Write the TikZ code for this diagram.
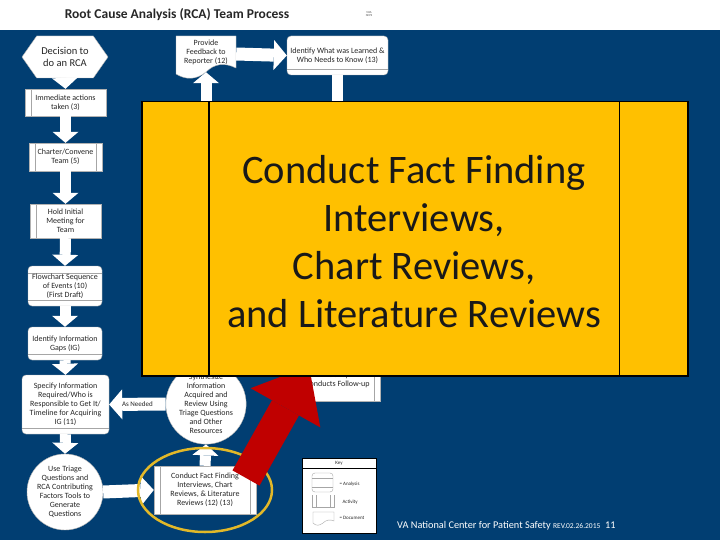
\documentclass[tikz,border=0pt]{standalone}
\usepackage{fontspec}
\setmainfont{Carlito}
\usetikzlibrary{positioning,arrows.meta,shapes.geometric,shapes.symbols}

\definecolor{vablue}{RGB}{1,62,114}
\definecolor{panelyellow}{RGB}{255,192,0}
\definecolor{arrowred}{RGB}{192,0,0}
\definecolor{ringgold}{RGB}{226,184,40}
\newcommand{\setfs}[2]{\fontsize{#1}{#2}\selectfont}

\begin{document}
\begin{tikzpicture}[
    x=1pt, y=-1pt,
    font=\setfs{8}{9},
    box/.style   = {draw=gray!60, fill=white, thin, align=center,
                    text=black!85, inner sep=1pt},
    lact/.style  = {box, path picture={
                    \draw[gray!70] ([xshift=6pt]path picture bounding box.north west)
                                -- ([xshift=6pt]path picture bounding box.south west);}},
    ract/.style  = {box, path picture={
                    \draw[gray!70] ([xshift=-6pt]path picture bounding box.north east)
                                -- ([xshift=-6pt]path picture bounding box.south east);}},
    dact/.style  = {box, path picture={
                    \draw[gray!70] ([xshift=6pt]path picture bounding box.north west)
                                -- ([xshift=6pt]path picture bounding box.south west);
                    \draw[gray!70] ([xshift=-6pt]path picture bounding box.north east)
                                -- ([xshift=-6pt]path picture bounding box.south east);}},
    anal/.style  = {box, rounded corners=4pt, path picture={
                    \draw[gray!70] ([yshift=-7pt]path picture bounding box.north west)
                                -- ([yshift=-7pt]path picture bounding box.north east);
                    \draw[gray!70] ([yshift=6pt]path picture bounding box.south west)
                                -- ([yshift=6pt]path picture bounding box.south east);}},
    analb/.style = {box, rounded corners=4pt, path picture={
                    \draw[gray!70] ([yshift=6pt]path picture bounding box.south west)
                                -- ([yshift=6pt]path picture bounding box.south east);}},
    circ/.style  = {box, circle, inner sep=0pt},
    blk/.style   = {draw=white, line width=11pt,
                    -{Triangle[length=11pt,width=26pt,line width=0pt]}},
    wblk/.style  = {draw=white, line width=13pt,
                    -{Triangle[length=13pt,width=30pt,line width=0pt]}},
    keylbl/.style = {font=\setfs{5}{6}, text=black!85, anchor=west},
]
\useasboundingbox (0,0) rectangle (720,540);

%% -- Header and background ----------------------------------------------
\fill[white] (0,0) rectangle (720,30);
\fill[vablue] (0,30) rectangle (720,540);
\node[font=\bfseries\setfs{13.5}{15}, text=black!85] (title) at (177,15)
  {Root Cause Analysis (RCA) Team Process};
\node[font=\setfs{3}{3.5}, text=black!70, align=center] (logo) at (369,14)
  {VHA\\NCPS};

%% -- Left column --------------------------------------------------------
\node[box, signal, signal to=west and east, signal pointer angle=110,
      minimum width=86pt, minimum height=42pt, font=\setfs{10.5}{12.5}] (decide) at (65,57)
  {Decision to\\do an RCA};
\node[lact, minimum width=81pt, minimum height=27pt] (immed) at (65.5,102.5)
  {Immediate actions\\taken (3)};
\node[dact, minimum width=73pt, minimum height=28pt] (charter) at (65.5,157)
  {Charter/Convene\\Team (5)};
\node[lact, minimum width=71pt, minimum height=34pt] (meeting) at (65.5,221)
  {Hold Initial\\Meeting for\\Team};
\node[anal, minimum width=74pt, minimum height=40pt] (flow) at (65,286)
  {Flowchart Sequence\\of Events (10)\\(First Draft)};
\node[analb, minimum width=74pt, minimum height=33pt] (gaps) at (65,343.5)
  {Identify Information\\Gaps (IG)};
\node[analb, minimum width=87pt, minimum height=59pt] (specify) at (65.5,404.5)
  {Specify Information\\Required/Who is\\Responsible to Get It/\\Timeline for Acquiring\\IG (11)};
\node[circ, minimum size=76pt] (triage) at (65,492)
  {Use Triage\\Questions and\\RCA Contributing\\Factors Tools to\\Generate\\Questions};

%% -- Fact finding -------------------------------------------------------
\node[dact, minimum width=102pt, minimum height=48pt] (conduct) at (205,490)
  {Conduct Fact Finding\\Interviews, Chart\\Reviews, \& Literature\\Reviews (12) (13)};
\node[circ, minimum size=75pt] (synth) at (206,404)
  {Synthesize\\Information\\Acquired and\\Review Using\\Triage Questions\\and Other\\Resources};

%% -- Top row ------------------------------------------------------------
\node[minimum width=60pt, minimum height=36pt, inner sep=0pt] (feedback) at (206,54) {};
\draw[gray!60, fill=white] (176,36) -- (236,36) -- (236,68)
  .. controls (224,62) and (214,64) .. (206,72)
  .. controls (196,80) and (186,80) .. (176,74) -- cycle;
\node[align=center, text=black!85, yshift=2pt] (feedbacktxt) at (feedback)
  {Provide\\Feedback to\\Reporter (12)};
\node[analb, minimum width=101pt, minimum height=39pt] (learned) at (337.5,55.5)
  {Identify What was Learned \&\\Who Needs to Know (13)};
\node[ract, minimum width=85pt, minimum height=42pt] (followup) at (337.5,380)
  {Facility\\Conducts Follow-up};

%% -- Connectors ---------------------------------------------------------
\draw[blk] (decide.south) -- (immed.north);
\draw[blk] (immed.south) -- (charter.north);
\draw[blk] (charter.south) -- (meeting.north);
\draw[blk] (meeting.south) -- (flow.north);
\draw[blk] (flow.south) -- (gaps.north);
\draw[blk] (gaps.south) -- (specify.north);
\draw[blk] (specify.south) -- (triage.north);
\draw[wblk] (triage.east) -- (conduct.west);
\draw[blk] (conduct.north) -- (synth.south);
\draw[wblk] (synth.west) -- node[font=\setfs{7}{8}, text=black!85] (asneeded) {As Needed}
  (specify.east);
\draw[blk] (synth.north) -- (feedback.south);
\draw[wblk] (feedback.east) -- (learned.west);
\draw[blk] (learned.south) -- (followup.north);

%% -- Highlight ring and red arrow ---------------------------------------
\node[draw=ringgold, line width=2.5pt, ellipse, minimum width=134pt,
      minimum height=84pt] (ring) at (205,490) {};
\coordinate (redtail) at (246,478);
\coordinate (redtip)  at (309,366);
\draw[draw=arrowred, line width=31pt,
      -{Triangle[length=48pt,width=80pt,line width=0pt]}] (redtail) -- (redtip);

%% -- Key ----------------------------------------------------------------
\node[draw=black, fill=white, minimum width=74pt, minimum height=75pt,
      inner sep=0pt] (key) at (339,495.5) {};
\node[font=\setfs{5}{6}, text=black!85] (keytitle) at (339,463.5) {Key};
\draw ([yshift=-10pt]key.north west) -- ([yshift=-10pt]key.north east);
\draw[gray!70, rounded corners=3pt] (312,473) rectangle (333,492);
\draw[gray!70] (312,478) -- (333,478) (312,487) -- (333,487);
\draw[gray!70] (312,495) -- (312,507) -- (334,507) -- (334,495)
  (316,495) -- (316,507) (330,495) -- (330,507);
\draw[gray!70] (313,512) -- (334,512) -- (334,521)
  .. controls (330,519) and (326,520) .. (323,523)
  .. controls (319,526) and (316,526) .. (313,523) -- cycle;
\node[keylbl] (kanal) at (336,484) {= Analysis};
\node[keylbl] (kact)  at (339,502) {Activity};
\node[keylbl] (kdoc)  at (336,518) {= Document};

%% -- Overlay panel ------------------------------------------------------
\node[draw=black, line width=1.5pt, fill=panelyellow, minimum width=546pt,
      minimum height=274pt, anchor=north west, inner sep=0pt] (panel) at (141,101) {};
\draw[line width=1.2pt] ([xshift=68pt]panel.north west) -- ([xshift=68pt]panel.south west);
\draw[line width=1.2pt] ([xshift=-69pt]panel.north east) -- ([xshift=-69pt]panel.south east);
\node[font=\setfs{40.5}{48}, text=black!90, align=center] (headline) at (414,242)
  {Conduct Fact Finding\\Interviews,\\Chart Reviews,\\and Literature Reviews};

%% -- Footer -------------------------------------------------------------
\node[anchor=west, text=white, font=\setfs{10.3}{12}, inner sep=0pt] (footer) at (397,526)
  {VA National Center for Patient Safety {\setfs{7.5}{9}REV.02.26.2015}\ \ 11};
\end{tikzpicture}
\end{document}
